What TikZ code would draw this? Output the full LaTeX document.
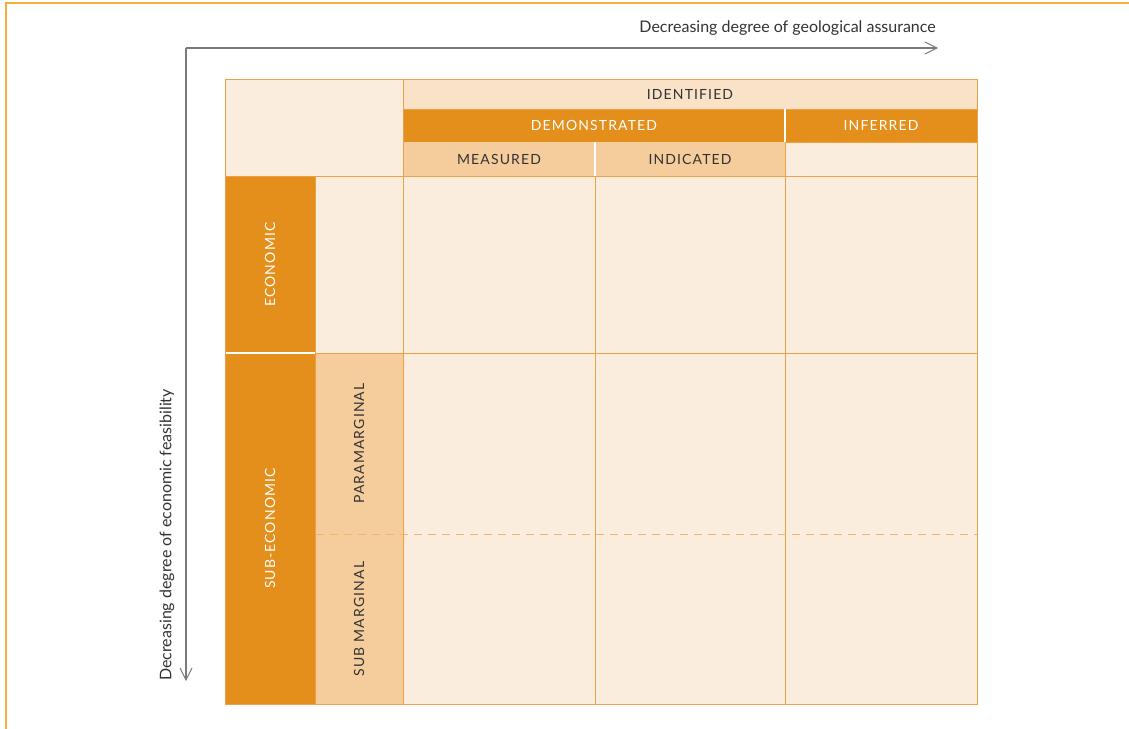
\documentclass[tikz,border=0pt]{standalone}
\usepackage{fontspec}
\setmainfont{Lato}
\newfontfamily\capsfont[LetterSpace=8]{Lato}
\usetikzlibrary{arrows.meta, positioning}

\definecolor{frameorange}{HTML}{F6B03A}
\definecolor{deeporange}{HTML}{E48F1B}
\definecolor{lineorange}{HTML}{EDA045}
\definecolor{dashorange}{HTML}{F2B56C}
\definecolor{paleorange}{HTML}{FBEDDE}
\definecolor{peach}{HTML}{F5CD9C}
\definecolor{identfill}{HTML}{F9E2C8}
\definecolor{textgray}{HTML}{333333}
\definecolor{axisgray}{HTML}{7A7A7A}

\begin{document}
\begin{tikzpicture}[x=1pt, y=-1pt]
		\tikzstyle{cell} = [rectangle, inner sep=0pt, outer sep=0pt, fill=paleorange, text=textgray, font=\capsfont\fontsize{14}{16}\selectfont]
		\tikzstyle{head} = [cell, fill=deeporange, text=white]
		\tikzstyle{sub} = [cell, fill=peach]
		\tikzstyle{grid} = [lineorange, line width=1pt]
		\tikzstyle{sep} = [white, line width=1.5pt]
		\tikzstyle{axis} = [axisgray, line width=1.2pt, -{Straight Barb[length=12pt, width=12pt, line width=1pt]}]
		\tikzstyle{axislabel} = [text=textgray, font=\fontsize{16}{18}\selectfont, inner sep=0pt]
		
		\useasboundingbox (0,0) rectangle (1129,728);
		\draw [frameorange, line width=1.5pt] (6,740) -- (6,3) -- (1140,3);
		
		% axes
		\coordinate (origin) at (186,48);
		\coordinate (xend) at (938,48);
		\coordinate (yend) at (186,681);
		\draw [axis] (origin) -- (xend);
		\draw [axis] (origin) -- (yend);
		\node (xlabel) [axislabel, anchor=east] at (936,28) {Decreasing degree of geological assurance};
		\node (ylabel) [axislabel, rotate=90] at (167,535) {Decreasing degree of economic feasibility};
		
		% column heads
		\node (blankhead) [cell, minimum width=178, minimum height=97] at (314,127.5) {};
		\node (ident) [cell, fill=identfill, minimum width=574, minimum height=30] at (690,94) {IDENTIFIED};
		\node (demo) [head, minimum width=382, minimum height=33] at (594,125.5) {DEMONSTRATED};
		\node (infer) [head, minimum width=192, minimum height=33] at (881,125.5) {INFERRED};
		\node (meas) [sub, minimum width=192, minimum height=34] at (499,159) {MEASURED};
		\node (indic) [sub, minimum width=190, minimum height=34] at (690,159) {INDICATED};
		\node (blankinf) [cell, minimum width=192, minimum height=34] at (881,159) {};
		
		% row heads
		\node (econ) [head, rotate=90, minimum width=177, minimum height=90] at (270,264.5) {ECONOMIC};
		\node (econgap) [cell, minimum width=88, minimum height=177] at (359,264.5) {};
		\node (subecon) [head, rotate=90, minimum width=351, minimum height=90] at (270,528.5) {SUB-ECONOMIC};
		\node (para) [sub, rotate=90, minimum width=181, minimum height=88] at (359,443.5) {PARAMARGINAL};
		\node (submarg) [sub, rotate=90, minimum width=170, minimum height=88] at (359,619) {SUB MARGINAL};
		
		% body
		\fill [paleorange] (403,176) rectangle (977,704);
		
		\draw [grid] (225,79) rectangle (977,704);
		\draw [grid] (ident.south west) -- (ident.south east);
		\draw [grid] (ident.north west) -- (403,704);
		\draw [grid] (225,176) -- (977,176);
		\draw [grid] (315,176) -- (315,704);
		\draw [grid] (315,353) -- (977,353);
		\draw [grid] (595,176) -- (595,704);
		\draw [grid] (785,142) -- (785,704);
		\draw [grid] (blankinf.north west) -- (blankinf.north east);
		\draw [sep] (demo.north east) -- (demo.south east);
		\draw [sep] (meas.north east) -- (meas.south east);
		\draw [sep] (226,353) -- (314.5,353);
		\draw [dashorange, line width=1pt, dash pattern=on 8pt off 6pt] (316,534) -- (977,534);
\end{tikzpicture}
\end{document}
